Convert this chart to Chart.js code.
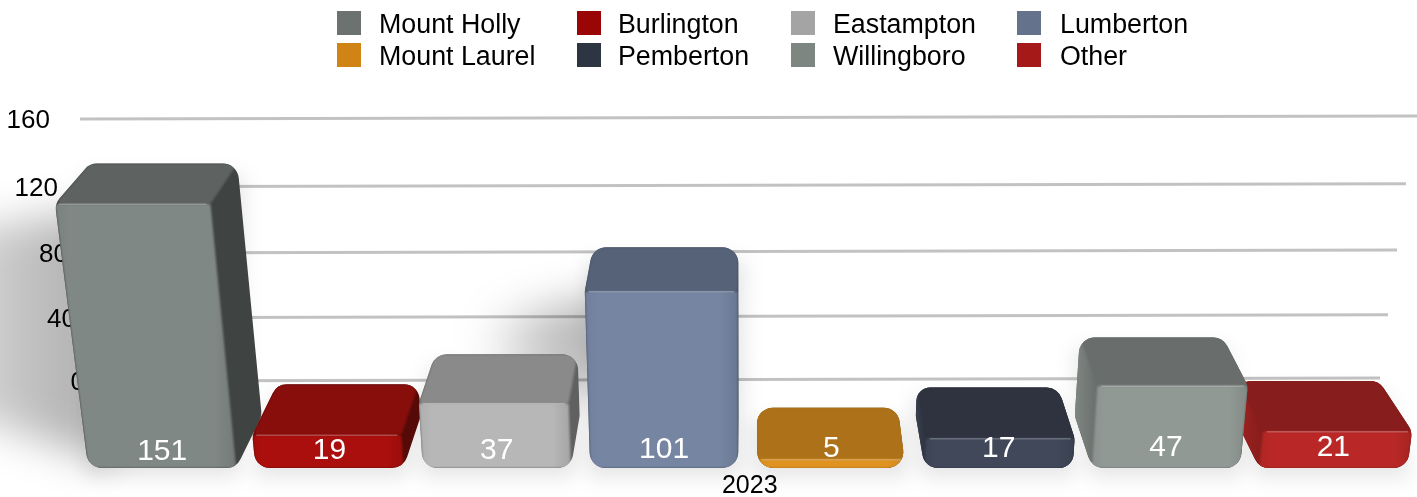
<!DOCTYPE html>
<html><head><meta charset="utf-8">
<style>html,body{margin:0;padding:0;background:#fff}canvas{display:block}</style>
<script src="https://cdn.jsdelivr.net/npm/chart.js@4"></script>
</head><body><canvas id="c" width="1417" height="497"></canvas>
<script>
const categories = ['2023'];
const towns = ['Mount Holly','Burlington','Eastampton','Lumberton','Mount Laurel','Pemberton','Willingboro','Other'];
const townValues = [151,19,37,101,5,17,47,21];
const yTicks = [0,40,80,120,160];
const legendColors = ['#6c726f','#9a0505','#a4a4a4','#65728c','#d08416','#2e3542','#7e8682','#a51a18'];
const frontColors = ['#808885','#ab0f0d','#b7b7b7','#7685a2','#e09320','#404859','#919995','#b92826'];
const topColors = ['#5e6361','#880e0c','#8a8a8a','#566277','#ad7219','#2f333f','#696e6c','#871d1c'];
const sideColors = ['#3f4341','#560a08','#606060','#3f4a5c','#7c5210','#252832','#5a605e','#80201e'];

const FONT = '"Liberation Sans", Helvetica, Arial, sans-serif';
const rows = [[0,1,2,3],[4,5,6,7]];
const swatchX = [337,577,791,1017], textX = [379,618,833,1060], rowTop = [11,43];
const tickRight = {0:85,40:76,80:68,120:58,160:50};
const gridEnds = {0:[116,1380],40:[107,1388],80:[98,1397],120:[89,1406],160:[80,1417]};

function hull(pts){
  const p=[...pts].sort((a,b)=>a[0]-b[0]||a[1]-b[1]);
  const cr=(o,a,b)=>(a[0]-o[0])*(b[1]-o[1])-(a[1]-o[1])*(b[0]-o[0]);
  const lo=[],up=[];
  for(const q of p){while(lo.length>1&&cr(lo[lo.length-2],lo[lo.length-1],q)<=0)lo.pop();lo.push(q);}
  for(const q of p.slice().reverse()){while(up.length>1&&cr(up[up.length-2],up[up.length-1],q)<=0)up.pop();up.push(q);}
  return lo.slice(0,-1).concat(up.slice(0,-1));
}
function roundPoly(ctx,pts,r){
  const n=pts.length,rs=pts.map((p,i)=>{
    const a=pts[(i+n-1)%n],b=pts[(i+1)%n];
    return Math.min(r,Math.hypot(p[0]-a[0],p[1]-a[1])*.49,Math.hypot(p[0]-b[0],p[1]-b[1])*.49);
  });
  ctx.beginPath();
  ctx.moveTo((pts[n-1][0]+pts[0][0])/2,(pts[n-1][1]+pts[0][1])/2);
  for(let i=0;i<n;i++){const p=pts[i],b=pts[(i+1)%n];ctx.arcTo(p[0],p[1],b[0],b[1],rs[i]);}
  ctx.closePath();
}
function shade(hex,k){
  const v=[1,3,5].map(i=>parseInt(hex.substr(i,2),16));
  return 'rgb('+v.map(c=>Math.max(0,Math.min(255,Math.round(k>0?c+(255-c)*k:c*(1+k))))).join(',')+')';
}
// the back wall recedes, so its lines crowd slightly towards the floor
const wallY=(scale,t)=>{const f=t/160;return scale.getPixelForValue(t)+12*f*(1-f);};

const scene3d = {
  id:'scene3d',
  beforeDatasetDraw(){return false;},
  beforeDatasetsDraw(chart){
    const {ctx,scales:{y}}=chart;
    ctx.save();
    ctx.strokeStyle='#c2c2c2';ctx.lineWidth=3;
    yTicks.forEach(t=>{
      const py=wallY(y,t),e=gridEnds[t];
      ctx.beginPath();ctx.moveTo(e[0],py);ctx.lineTo(e[1],py-3);ctx.stroke();
    });
    ctx.fillStyle='#000';ctx.font='26px '+FONT;ctx.textAlign='right';ctx.textBaseline='middle';
    yTicks.forEach(t=>ctx.fillText(String(t),tickRight[t],wallY(y,t)+2));
    ctx.restore();
  },
  afterDatasetsDraw(chart){
    const {ctx,chartArea:a}=chart;
    const cx=(a.left+a.right)/2;
    const P=(ox,h,d)=>{const s=(1+.00019*h)*(1-.05*d);return [cx+ox*s,a.bottom-h-d*(52-.045*h)];};
    const bars=chart.data.datasets.map((ds,i)=>{
      const el=chart.getDatasetMeta(i).data[0];
      const o=el.getProps(['x','y','base','width'],true);
      return {i,ox:o.x-cx,h:o.base-o.y,w:o.width,x:o.x,label:ds.data[0]};
    });
    // soft cast shadows on the wall and floor
    ctx.save();
    bars.forEach(b=>{
      const bl=P(b.ox-b.w/2,b.h,1),br=P(b.ox+b.w/2,b.h,1);
      ctx.filter='blur(10px)';
      ctx.fillStyle='rgba(0,0,0,.10)';
      ctx.beginPath();
      ctx.moveTo(bl[0]-6,bl[1]+12);ctx.lineTo(br[0]+6,br[1]+12);
      ctx.lineTo(b.x+b.w/2+4,a.bottom+9);ctx.lineTo(b.x-b.w/2-4,a.bottom+9);ctx.closePath();ctx.fill();
      if(b.h>120){
        const len=b.h*.74,x0=bl[0]+20;
        const g=ctx.createLinearGradient(x0,0,x0-len,0);
        g.addColorStop(0,'rgba(0,0,0,.33)');g.addColorStop(.6,'rgba(0,0,0,.2)');g.addColorStop(1,'rgba(0,0,0,0)');
        ctx.filter='blur(20px)';ctx.fillStyle=g;
        ctx.beginPath();
        ctx.moveTo(x0,bl[1]+46);ctx.lineTo(x0-len,bl[1]+72);
        const bottomEdge=b.h>200?[a.bottom-68,a.bottom-6]:[a.bottom-92,a.bottom-84];
        ctx.lineTo(x0-len,bottomEdge[0]);ctx.lineTo(x0,bottomEdge[1]);ctx.closePath();ctx.fill();
      }
    });
    ctx.restore();
    // bars, outermost first
    const order=[...bars].sort((p,q)=>Math.abs(q.x-cx)-Math.abs(p.x-cx));
    order.forEach(b=>{
      const l=b.ox-b.w/2,r=b.ox+b.w/2,h=b.h;
      const fBL=P(l,0,0),fBR=P(r,0,0),fTL=P(l,h,0),fTR=P(r,h,0);
      const bBL=P(l,0,1),bBR=P(r,0,1),bTL=P(l,h,1),bTR=P(r,h,1);
      const front=frontColors[b.i],top=topColors[b.i],side=sideColors[b.i];
      ctx.save();
      // very short bars: the silhouette is just the bottom edge and the back edge of the top
      const outline=h<16?[fBL,fBR,bTL,bTR]:[fBL,fBR,fTL,fTR,bBL,bBR,bTL,bTR];
      roundPoly(ctx,hull(outline),16);
      ctx.clip();
      ctx.fillStyle=side;ctx.fillRect(0,0,1417,497);
      if(b.x>cx){
        const g=ctx.createLinearGradient(bBL[0],0,fTL[0],0);
        g.addColorStop(0,shade(front,-.12));g.addColorStop(1,shade(front,-.28));
        ctx.fillStyle=g;ctx.fillRect(0,0,1417,497);
      }
      ctx.filter='blur(1px)';
      ctx.fillStyle=top;
      roundPoly(ctx,[fTL,fTR,bTR,bTL],3);ctx.fill();
      const g=ctx.createLinearGradient(Math.min(fTL[0],fBL[0]),0,Math.max(fTR[0],fBR[0]),0);
      g.addColorStop(0,shade(front,-.05));g.addColorStop(.08,front);g.addColorStop(.88,front);
      g.addColorStop(1,shade(front,-.1));
      ctx.fillStyle=g;
      roundPoly(ctx,[fTL,fTR,fBR,fBL],2);ctx.fill();
      ctx.filter='none';
      ctx.strokeStyle='rgba(255,255,255,.25)';ctx.lineWidth=1.5;
      ctx.beginPath();ctx.moveTo(fTL[0]+4,fTL[1]+.5);ctx.lineTo(fTR[0]-4,fTR[1]+.5);ctx.stroke();
      ctx.restore();
    });
    // value labels
    ctx.save();
    ctx.fillStyle='#fff';ctx.font='30px '+FONT;ctx.textAlign='center';ctx.textBaseline='middle';
    bars.forEach(b=>ctx.fillText(String(b.label),b.x,a.bottom-16-(b.x-a.left)/1339*5));
    ctx.restore();
    // legend
    ctx.save();
    ctx.font='26.8px '+FONT;ctx.textBaseline='middle';ctx.textAlign='left';
    rows.forEach((row,ri)=>row.forEach((i,ci)=>{
      ctx.fillStyle=legendColors[i];ctx.fillRect(swatchX[ci],rowTop[ri],24,24);
      ctx.fillStyle='#000';ctx.fillText(towns[i],textX[ci],rowTop[ri]+15);
    }));
    ctx.restore();
  }
};

new Chart(document.getElementById('c'),{
  type:'bar',
  data:{
    labels:categories,
    datasets:towns.map((t,i)=>({label:t,data:[townValues[i]],backgroundColor:legendColors[i],yAxisID:'yBars',
      categoryPercentage:1,barPercentage:.885}))
  },
  plugins:[scene3d],
  options:{
    responsive:false,animation:false,
    layout:{padding:{top:119,left:0,right:0,bottom:0}},
    plugins:{legend:{display:false},tooltip:{enabled:false}},
    scales:{
      x:{grid:{display:false,drawTicks:false},border:{display:false},
         ticks:{color:'#000',padding:6,labelOffset:2,maxRotation:0,font:{family:FONT,size:25,lineHeight:1}},
         afterFit(s){s.height=29;}},
      y:{min:-53.1,max:160,position:'left',grid:{display:false},border:{display:false},
         ticks:{display:false},
         afterBuildTicks(s){s.ticks=yTicks.map(v=>({value:v}));},
         afterFit(s){s.width=78.5;}},
      yBars:{min:0,max:199.4,display:false}
    }
  }
});
</script></body></html>
